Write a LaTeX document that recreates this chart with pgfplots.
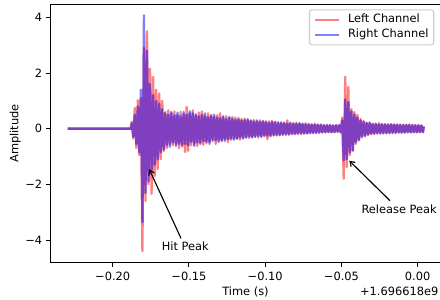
\documentclass[border=0pt]{standalone}
\usepackage{fontspec}
\setmainfont{DejaVu Sans}
\usepackage{pgfplots}
\usepackage{pgfplotstable}
\pgfplotsset{compat=1.18}
\usetikzlibrary{arrows.meta}

\pgfplotstableread{
t L R
-0.2296 0 0
-0.1880 0 0
-0.1875 0.25 0.20
-0.1865 -0.35 -0.30
-0.1855 0.75 0.50
-0.1845 -0.70 -0.55
-0.1835 1.02 0.80
-0.1825 -0.95 -0.85
-0.1815 1.10 1.40
-0.1805 -4.40 -3.36
-0.1795 2.90 4.07
-0.1785 -2.60 -2.30
-0.1775 3.50 2.80
-0.1765 -2.00 -1.90
-0.1755 2.15 1.60
-0.1745 -2.34 -1.50
-0.1735 1.86 1.20
-0.1725 -1.70 -1.30
-0.1715 1.40 1.00
-0.1705 -1.45 -1.10
-0.1695 1.26 0.90
-0.1685 -1.10 -0.85
-0.1675 1.00 0.70
-0.1665 -0.80 -0.75
-0.1655 0.60 0.55
-0.1645 -0.70 -0.60
-0.1635 0.66 0.50
-0.1625 -0.55 -0.65
-0.1615 0.55 0.60
-0.1605 -0.60 -0.50
-0.1595 0.62 0.48
-0.1585 -0.55 -0.62
-0.1575 0.50 0.58
-0.1565 -0.70 -0.55
-0.1555 0.60 0.45
-0.1545 -0.65 -0.58
-0.1535 0.52 0.60
-0.1525 -0.84 -0.55
-0.1515 0.78 0.50
-0.1505 -0.80 -0.60
-0.1495 0.55 0.62
-0.1485 -0.60 -0.48
-0.1475 0.66 0.55
-0.1465 -0.55 -0.62
-0.1455 0.48 0.52
-0.1445 -0.62 -0.50
-0.1435 0.58 0.45
-0.1425 -0.50 -0.55
-0.1415 0.62 0.50
-0.1405 -0.58 -0.45
-0.1395 0.45 0.55
-0.1385 -0.52 -0.48
-0.1375 0.55 0.42
-0.1365 -0.48 -0.55
-0.1355 0.50 0.45
-0.1345 -0.45 -0.40
-0.1335 0.42 0.50
-0.1325 -0.55 -0.42
-0.1315 0.48 0.40
-0.1305 -0.42 -0.48
-0.1295 0.55 0.38
-0.1285 -0.45 -0.42
-0.1275 0.40 0.45
-0.1265 -0.38 -0.44
-0.1255 0.45 0.35
-0.1245 -0.48 -0.38
-0.1235 0.38 0.42
-0.1225 -0.40 -0.36
-0.1215 0.42 0.35
-0.1205 -0.35 -0.40
-0.1195 0.40 0.32
-0.1185 -0.38 -0.35
-0.1175 0.33 0.38
-0.1165 -0.40 -0.32
-0.1155 0.35 0.30
-0.1145 -0.32 -0.36
-0.1135 0.36 0.30
-0.1125 -0.30 -0.33
-0.1115 0.30 0.34
-0.1105 -0.34 -0.28
-0.1095 0.28 0.30
-0.1085 -0.30 -0.32
-0.1075 0.32 0.26
-0.1065 -0.28 -0.30
-0.1055 0.26 0.30
-0.1045 -0.32 -0.26
-0.1035 0.30 0.25
-0.1025 -0.26 -0.30
-0.1015 0.25 0.28
-0.1005 -0.28 -0.24
-0.0995 0.24 0.26
-0.0985 -0.38 -0.25
-0.0975 0.26 0.22
-0.0965 -0.24 -0.28
-0.0955 0.28 0.24
-0.0945 -0.22 -0.25
-0.0935 0.22 0.25
-0.0925 -0.25 -0.22
-0.0915 0.24 0.20
-0.0905 -0.22 -0.24
-0.0895 0.20 0.23
-0.0885 -0.24 -0.20
-0.0875 0.22 0.20
-0.0865 -0.20 -0.22
-0.0855 0.30 0.18
-0.0845 -0.22 -0.20
-0.0835 0.18 0.22
-0.0825 -0.20 -0.18
-0.0815 0.20 0.18
-0.0805 -0.18 -0.20
-0.0795 0.22 0.17
-0.0785 -0.17 -0.19
-0.0775 0.18 0.20
-0.0765 -0.20 -0.16
-0.0755 0.16 0.18
-0.0745 -0.18 -0.17
-0.0735 0.20 0.15
-0.0725 -0.16 -0.18
-0.0715 0.15 0.17
-0.0705 -0.17 -0.15
-0.0695 0.16 0.14
-0.0685 -0.15 -0.16
-0.0675 0.18 0.14
-0.0665 -0.14 -0.16
-0.0655 0.14 0.15
-0.0645 -0.16 -0.13
-0.0635 0.13 0.15
-0.0625 -0.14 -0.13
-0.0615 0.13 0.12
-0.0605 -0.12 -0.14
-0.0595 0.14 0.12
-0.0585 -0.13 -0.12
-0.0575 0.12 0.14
-0.0565 -0.14 -0.12
-0.0555 0.12 0.11
-0.0545 -0.12 -0.13
-0.0535 0.13 0.12
-0.0525 -0.12 -0.11
-0.0515 0.12 0.13
-0.0505 -0.15 -0.12
-0.0495 0.40 0.30
-0.0485 -1.80 -1.14
-0.0475 1.86 1.05
-0.0465 -1.38 -1.10
-0.0455 1.50 0.95
-0.0445 -0.95 -0.85
-0.0435 0.70 0.62
-0.0425 -0.80 -0.78
-0.0415 0.60 0.50
-0.0405 -0.55 -0.48
-0.0395 0.50 0.40
-0.0385 -0.40 -0.42
-0.0375 0.35 0.30
-0.0365 -0.32 -0.28
-0.0355 0.28 0.25
-0.0345 -0.25 -0.27
-0.0335 0.22 0.20
-0.0325 -0.24 -0.20
-0.0315 0.20 0.22
-0.0305 -0.20 -0.18
-0.0295 0.18 0.16
-0.0285 -0.20 -0.17
-0.0275 0.16 0.18
-0.0265 -0.18 -0.16
-0.0255 0.20 0.15
-0.0245 -0.16 -0.18
-0.0235 0.15 0.17
-0.0225 -0.18 -0.15
-0.0215 0.17 0.15
-0.0205 -0.15 -0.17
-0.0195 0.16 0.14
-0.0185 -0.17 -0.15
-0.0175 0.15 0.16
-0.0165 -0.14 -0.16
-0.0155 0.16 0.14
-0.0145 -0.16 -0.14
-0.0135 0.14 0.15
-0.0125 -0.15 -0.13
-0.0115 0.15 0.13
-0.0105 -0.13 -0.15
-0.0095 0.14 0.13
-0.0085 -0.15 -0.13
-0.0075 0.13 0.14
-0.0065 -0.14 -0.12
-0.0055 0.15 0.13
-0.0045 -0.13 -0.14
-0.0035 0.14 0.12
-0.0025 -0.12 -0.14
-0.0015 0.13 0.12
-0.0005 -0.14 -0.12
0.0005 0.12 0.13
0.0015 -0.13 -0.12
0.0025 0.12 0.11
0.0035 -0.12 -0.13
0.0040 0.08 0.07
}\wave

\begin{document}
\begin{tikzpicture}[font=\fontsize{11.4bp}{13.7bp}\selectfont]
\begin{axis}[
  name=ax,
  scale only axis,
  width=391bp, height=258.7bp,
  xmin=-0.2411, xmax=0.01529,
  ymin=-4.815, ymax=4.477,
  xtick={-0.2,-0.15,-0.1,-0.05,0},
  xticklabels={−0.20,−0.15,−0.10,−0.05,0.00},
  ytick={-4,-2,0,2,4},
  yticklabels={−4,−2,0,2,4},
  tick align=outside,
  xtick pos=left, ytick pos=left,
  major tick length=4bp,
  every tick/.style={black, line width=0.91bp},
  axis line style={line width=0.91bp},
  xticklabel style={inner sep=0pt, anchor=north, yshift=-5.1bp},
  yticklabel style={inner sep=0pt, anchor=east, xshift=-3.7bp},
  xlabel={Time (s)}, ylabel={Amplitude},
  xlabel style={at={(axis description cs:0.5,-0.1268)}, anchor=base, inner sep=0pt},
  ylabel style={at={(axis description cs:-0.08107,0.5)}, anchor=base, inner sep=0pt},
  axis on top,
  legend cell align=left,
  legend style={at={(rel axis cs:1,1)}, anchor=north east, xshift=-6.7bp, yshift=-5.3bp,
    draw=black!20, line width=1.1bp, rounded corners=2.5bp,
    fill=white, fill opacity=0.8, text opacity=1,
    inner xsep=4.3bp, inner ysep=2.4bp, row sep=0.3bp, column sep=7.5bp,
    nodes={inner xsep=1bp, inner ysep=2.5bp, text height=0.76em, text depth=0.24em}},
  legend image code/.code={\draw[#1, line width=1.7bp] (0bp,0bp) -- (24bp,0bp);},
]
\addplot[red, opacity=0.5, line width=2.3bp, line join=round] table[x=t, y=L] {\wave};
\addlegendentry{Left Channel}
\addplot[blue, opacity=0.5, line width=2.3bp, line join=round] table[x=t, y=R] {\wave};
\addlegendentry{Right Channel}

\draw[-{Straight Barb[length=4.5bp,width=6bp]}, line width=1.14bp] (axis cs:-0.1552,-3.94) -- (axis cs:-0.1760,-1.46);
\node[anchor=base, inner sep=0pt] at (axis cs:-0.1524,-4.36) {Hit Peak};
\draw[-{Straight Barb[length=4.5bp,width=6bp]}, line width=1.14bp] (axis cs:-0.01816,-2.588) -- (axis cs:-0.04485,-1.151);
\node[anchor=base, inner sep=0pt] at (axis cs:-0.01213,-3.04) {Release Peak};
\end{axis}
\node[anchor=base east, inner sep=0pt] at ([xshift=-2.5bp,yshift=-32.8bp]ax.south east) {+1.696618e9};
\pgfresetboundingbox
\path ([xshift=-50bp,yshift=-37.3bp]ax.south west) rectangle ++(440bp,300bp);
\end{tikzpicture}
\end{document}
